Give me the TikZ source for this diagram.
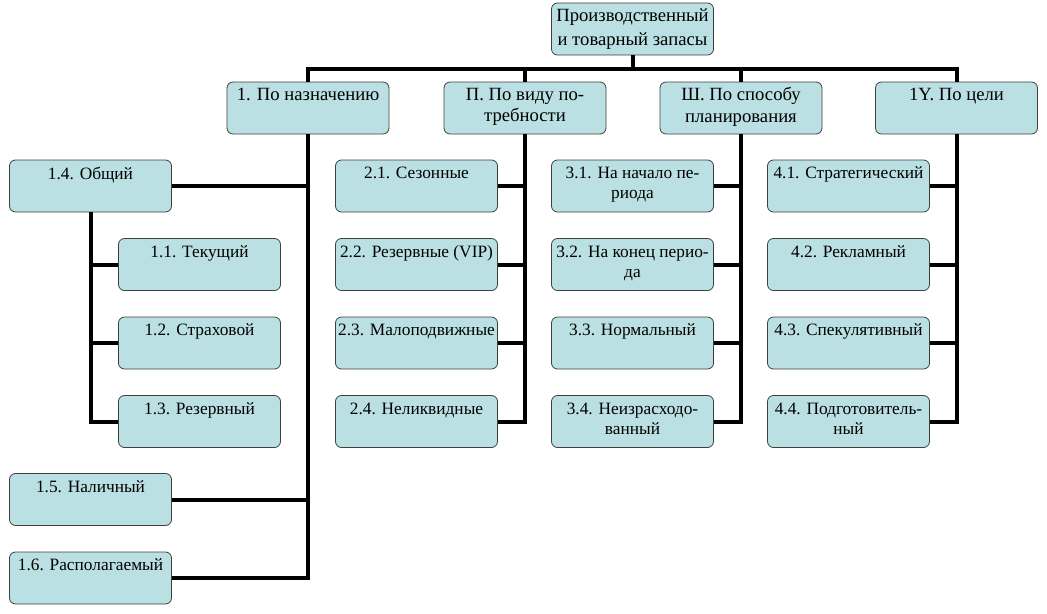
\documentclass[tikz,border=0pt]{standalone}
\usepackage{fontspec}
\setmainfont{Liberation Serif}
\definecolor{boxfill}{HTML}{BBE0E3}
\definecolor{boxline}{HTML}{3F3F3F}
\tikzset{
  box/.style={draw=boxline, line width=0.6pt, fill=boxfill, rounded corners=4.5pt,
    minimum width=121.5pt, minimum height=39pt, inner sep=0pt, align=center},
  rootbox/.style={box, font=\fontsize{14}{18}\selectfont,
    execute at begin node=\rule{0pt}{14pt}},
  kindbox/.style={box, font=\fontsize{14}{16}\selectfont,
    execute at begin node=\strut, execute at end node=\strut},
  itembox/.style={box, font=\fontsize{13}{15}\selectfont,
    execute at begin node=\strut, execute at end node=\strut},
  link/.style={line width=3pt, black},
}
\begin{document}
\begin{tikzpicture}[x=0.75pt,y=-0.75pt]
  \pgfmathsetmacro{\colA}{90.5}
  \pgfmathsetmacro{\colB}{199.5}
  \pgfmathsetmacro{\colC}{416.5}
  \pgfmathsetmacro{\colD}{632.5}
  \pgfmathsetmacro{\colE}{848.5}
  \pgfmathsetmacro{\rowA}{186}
  \pgfmathsetmacro{\rowB}{264.5}
  \pgfmathsetmacro{\rowC}{343}
  \pgfmathsetmacro{\rowD}{421.5}
  \pgfmathsetmacro{\rowE}{499.5}
  \pgfmathsetmacro{\rowF}{578}
  \useasboundingbox (0,0) rectangle (1047,614);
  \node[rootbox] (root) at (632.5,29) {Производственный\\и товарный запасы};
  \node[kindbox] (k1) at (308,108) {1. По назначению\\};
  \node[kindbox] (k2) at (525,108) {П. По виду по-\\требности};
  \node[kindbox] (k3) at (741,108) {Ш. По способу\\планирования};
  \node[kindbox] (k4) at (956.5,108) {1Y. По цели\\};
  \node[itembox] (n14) at (\colA,\rowA) {1.4. Общий\\};
  \node[itembox] (n11) at (\colB,\rowB) {1.1. Текущий\\};
  \node[itembox] (n12) at (\colB,\rowC) {1.2. Страховой\\};
  \node[itembox] (n13) at (\colB,\rowD) {1.3. Резервный\\};
  \node[itembox] (n15) at (\colA,\rowE) {1.5. Наличный\\};
  \node[itembox] (n16) at (\colA,\rowF) {1.6. Располагаемый\\};
  \node[itembox] (n21) at (\colC,\rowA) {2.1. Сезонные\\};
  \node[itembox] (n22) at (\colC,\rowB) {2.2. Резервные (VIP)\\};
  \node[itembox] (n23) at (\colC,\rowC) {2.3. Малоподвижные\\};
  \node[itembox] (n24) at (\colC,\rowD) {2.4. Неликвидные\\};
  \node[itembox] (n31) at (\colD,\rowA) {3.1. На начало пе-\\риода};
  \node[itembox] (n32) at (\colD,\rowB) {3.2. На конец перио-\\да};
  \node[itembox] (n33) at (\colD,\rowC) {3.3. Нормальный\\};
  \node[itembox] (n34) at (\colD,\rowD) {3.4. Неизрасходо-\\ванный};
  \node[itembox] (n41) at (\colE,\rowA) {4.1. Стратегический\\};
  \node[itembox] (n42) at (\colE,\rowB) {4.2. Рекламный\\};
  \node[itembox] (n43) at (\colE,\rowC) {4.3. Спекулятивный\\};
  \node[itembox] (n44) at (\colE,\rowD) {4.4. Подготовитель-\\ный};
  \coordinate (bus) at (0,69);
  \draw[link] (root.south) -- (root.south |- bus);
  \draw[link] (k1.north) -- (k1.north |- bus) -- (k4.north |- bus) -- (k4.north);
  \foreach \k in {k2,k3} \draw[link] (\k.north |- bus) -- (\k.north);
  \draw[link] (k1.south) |- (n16.east);
  \foreach \n in {n14,n15} \draw[link] (\n.east) -- (\n.east -| k1.south);
  \draw[link] (n14.south) |- (n13.west);
  \foreach \n in {n11,n12} \draw[link] (\n.west) -- (\n.west -| n14.south);
  \foreach \c in {2,3,4} {
    \draw[link] (k\c.south) |- (n\c4.east);
    \foreach \r in {1,2,3} \draw[link] (n\c\r.east) -- (n\c\r.east -| k\c.south);
  }
\end{tikzpicture}
\end{document}
